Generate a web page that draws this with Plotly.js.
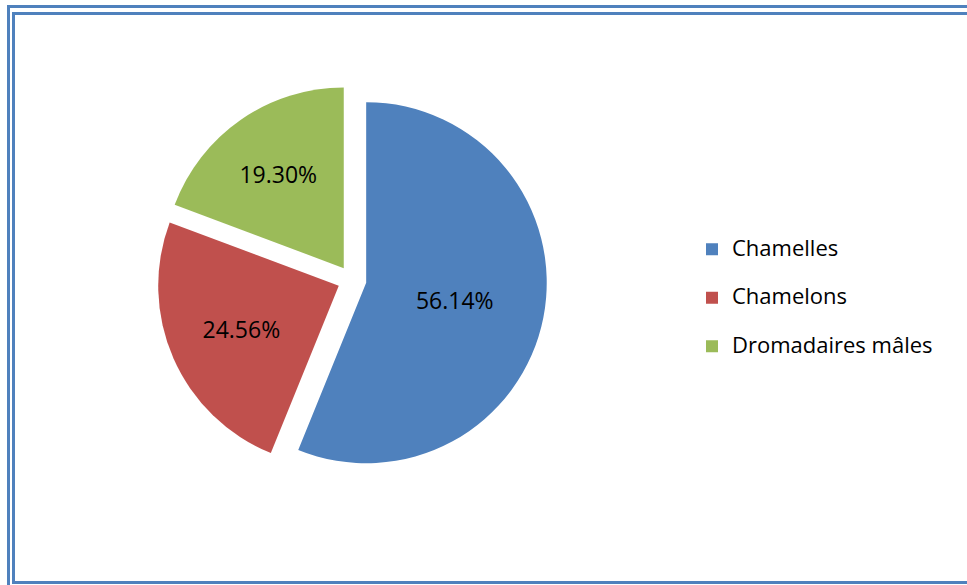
<!DOCTYPE html>
<html><head><meta charset="utf-8">
<script src="https://cdn.plot.ly/plotly-3.0.1.min.js"></script>
<style>html,body{margin:0;padding:0;background:#fff;}#chart{width:967px;height:585px;}</style>
</head><body><div id="chart"></div>
<script>
const categories = ["Chamelles", "Chamelons", "Dromadaires mâles"];
const values = [56.14, 24.56, 19.30];
const textLabels = ["56.14%", "24.56%", "19.30%"];
const colors = ["#4F81BD", "#C0504D", "#9BBB59"];

const W = 967, H = 585;
const px = v => v / W, py = v => 1 - v / H;
const frame = "#4F81BD";
function line(x0, y0, x1, y1, w) {
  return {type: "line", xref: "paper", yref: "paper", x0: px(x0), y0: py(y0), x1: px(x1), y1: py(y1),
          line: {color: frame, width: w}};
}
const shapes = [
  line(8.5, 6.5, 967, 6.5, 3),
  line(8.5, 5, 8.5, 585, 3),
  line(13.5, 13.5, 967, 13.5, 3),
  line(13.5, 12, 13.5, 583, 3),
  line(12, 582.5, 967, 582.5, 3)
];

// legend entries shown in a smaller font inside a taller line, to space them like the reference
const legendLabels = categories.map(c => '<span style="font-size:22px;baseline-shift:7px">' + c + '</span>');

const trace = {
  type: "pie",
  labels: legendLabels,
  values: values,
  text: textLabels,
  textinfo: "text",
  textposition: "inside",
  insidetextorientation: "horizontal",
  sort: false,
  direction: "clockwise",
  rotation: 0,
  pull: [0.08, 0.08, 0.08],
  marker: {colors: colors, line: {color: "#ffffff", width: 0}},
  textfont: {family: "Open Sans, Liberation Sans, sans-serif", size: 23, color: "#000000"},
  domain: {x: [px(157), px(547)], y: [py(475), py(85)]},
  hoverinfo: "percent"
};

const layout = {
  width: W, height: H,
  margin: {l: 0, r: 0, t: 0, b: 0},
  paper_bgcolor: "#ffffff",
  showlegend: true,
  legend: {x: px(692), y: py(220), xanchor: "left", yanchor: "top",
           font: {family: "Open Sans, Liberation Sans, sans-serif", size: 35, color: "#000000"},
           traceorder: "normal"},
  shapes: shapes
};

Plotly.newPlot("chart", [trace], layout, {displayModeBar: false, staticPlot: true});
</script>
</body></html>
